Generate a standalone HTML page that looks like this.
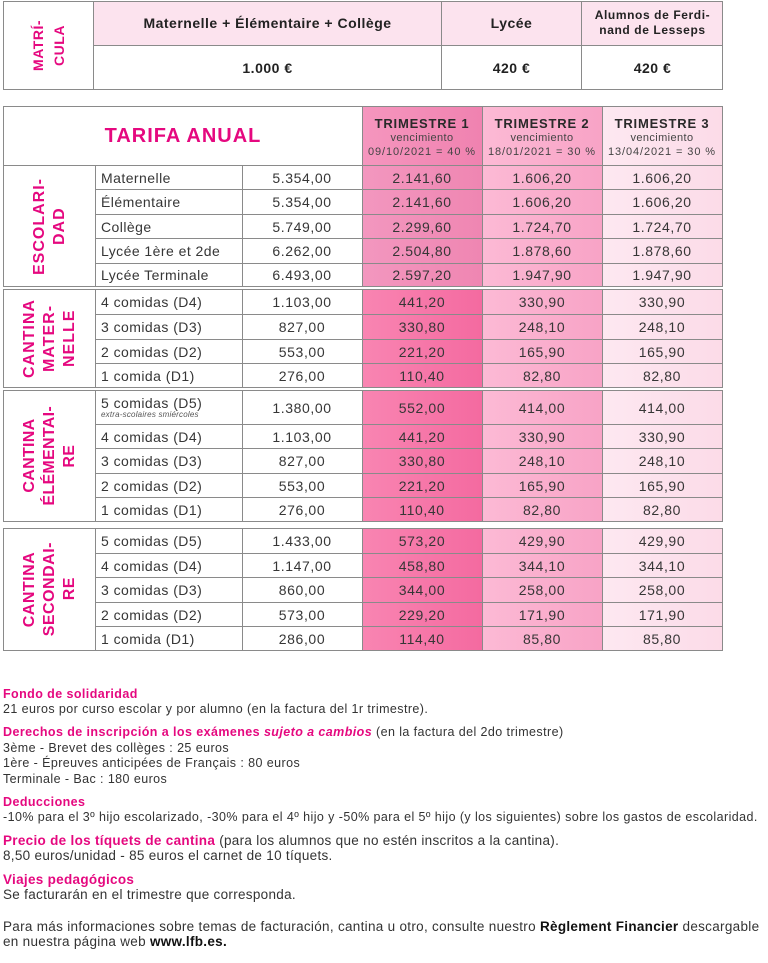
<!DOCTYPE html>
<html><head><meta charset="utf-8">
<style>
*{margin:0;padding:0;box-sizing:border-box}
body{width:768px;height:963px;background:#fff;position:relative;overflow:hidden;font-family:"Liberation Sans",Arial,sans-serif;color:#3a3a3a}
.abs{position:absolute}
.box{position:absolute;left:3px;width:720px;border:1px solid #8a8a8a}
.v{position:absolute;width:1px;background:#8a8a8a}
.r{position:absolute;left:95px;width:627px;display:flex;align-items:center;border-top:1px solid #8a8a8a;font-size:14px;letter-spacing:0.6px;color:#363636}
.r span{width:120px;text-align:center;display:block}
.r span.n{width:147px;text-align:left;padding-left:6px;letter-spacing:0.45px}
.lab{position:absolute;left:4px;width:91px;display:flex;align-items:center;justify-content:center}
.vt{writing-mode:vertical-rl;transform:rotate(180deg);color:#e5087f;font-weight:bold;font-size:16px;letter-spacing:1px;line-height:20px;text-align:center;white-space:nowrap}
.t1e{background:linear-gradient(to right,#f397bf,#ef86b2)}
.t1c{background:linear-gradient(to right,#f985b2,#f46aa0)}
.t2{background:linear-gradient(to right,#fcbad5,#f8a3c6)}
.t3{background:linear-gradient(to right,#fde8f1,#fcdbe8)}
.th{position:absolute;top:106px;height:59px;width:120px;text-align:center;color:#2a2a2a}
.th b{display:block;font-size:13px;letter-spacing:0.8px;margin-top:10px;line-height:15px}
.th i{display:block;font-style:normal;font-size:11px;line-height:14px;color:#444;letter-spacing:0.4px}
.th i.d{letter-spacing:0.9px}
.fn{position:absolute;left:3px;font-size:12.5px;line-height:16px;color:#333;white-space:nowrap;letter-spacing:0.42px}
.fn b{color:#e5087f}
.fc{position:absolute;left:3px;font-size:13.5px;line-height:16px;color:#333;white-space:nowrap;letter-spacing:0.3px}
.fc b.p{color:#e5087f}
.fc b.k{color:#111}
.tt{font-weight:bold;font-size:14px;color:#222;letter-spacing:0.5px}
</style></head><body>

<!-- TOP TABLE -->
<div class="abs" style="left:93px;top:1px;width:630px;height:44px;background:#fce3ee"></div>
<div class="box" style="top:1px;height:89px"></div>
<div class="v" style="left:93px;top:1px;height:89px"></div>
<div class="v" style="left:441px;top:1px;height:89px"></div>
<div class="v" style="left:581px;top:1px;height:89px"></div>
<div class="abs" style="left:93px;top:45px;width:630px;height:1px;background:#8a8a8a"></div>
<div class="lab" style="top:2px;height:87px;left:4px;width:89px"><div class="vt" style="font-size:14px;letter-spacing:0.5px;line-height:21px">MATRÍ-<br>CULA</div></div>
<div class="abs tt" style="left:94px;top:1px;width:347px;height:44px;display:flex;align-items:center;justify-content:center">Maternelle + Élémentaire + Collège</div>
<div class="abs tt" style="left:442px;top:1px;width:139px;height:44px;display:flex;align-items:center;justify-content:center">Lycée</div>
<div class="abs" style="left:582px;top:1px;width:141px;height:44px;display:flex;align-items:center;justify-content:center;text-align:center;font-weight:bold;font-size:12px;line-height:15px;color:#222;letter-spacing:0.6px">Alumnos de Ferdi-<br>nand de Lesseps</div>
<div class="abs tt" style="left:94px;top:46px;width:347px;height:43px;display:flex;align-items:center;justify-content:center">1.000 €</div>
<div class="abs tt" style="left:442px;top:46px;width:139px;height:43px;display:flex;align-items:center;justify-content:center">420 €</div>
<div class="abs tt" style="left:582px;top:46px;width:141px;height:43px;display:flex;align-items:center;justify-content:center">420 €</div>

<!-- BLOCK 1: header + escolaridad (106-286) -->
<div class="abs" style="left:362px;top:106px;width:120px;height:59px;background:linear-gradient(to right,#f596be,#f082b0)"></div>
<div class="abs t1e" style="left:362px;top:165px;width:120px;height:121px"></div>
<div class="abs t2" style="left:482px;top:106px;width:120px;height:180px"></div>
<div class="abs t3" style="left:602px;top:106px;width:120px;height:180px"></div>
<div class="box" style="top:106px;height:181px"></div>
<div class="v" style="left:95px;top:165px;height:121px"></div>
<div class="v" style="left:242px;top:165px;height:121px"></div>
<div class="v" style="left:362px;top:106px;height:180px"></div>
<div class="v" style="left:482px;top:106px;height:180px"></div>
<div class="v" style="left:602px;top:106px;height:180px"></div>
<div class="abs" style="left:4px;top:107px;width:358px;height:58px;display:flex;align-items:center;justify-content:center;color:#e5087f;font-weight:bold;font-size:20px;letter-spacing:1px">TARIFA ANUAL</div>
<div class="th" style="left:362px"><b>TRIMESTRE 1</b><i>vencimiento</i><i class="d">09/10/2021 = 40 %</i></div>
<div class="th" style="left:482px"><b>TRIMESTRE 2</b><i>vencimiento</i><i class="d">18/01/2021 = 30 %</i></div>
<div class="th" style="left:602px"><b>TRIMESTRE 3</b><i>vencimiento</i><i class="d">13/04/2021 = 30 %</i></div>
<div class="abs" style="left:4px;top:165px;width:718px;height:1px;background:#8a8a8a"></div>
<div class="lab" style="top:166px;height:120px"><div class="vt">ESCOLARI-<br>DAD</div></div>
<div class="r" style="top:165px;height:24px"><span class="n">Maternelle</span><span>5.354,00</span><span>2.141,60</span><span>1.606,20</span><span>1.606,20</span></div>
<div class="r" style="top:189px;height:25px"><span class="n">Élémentaire</span><span>5.354,00</span><span>2.141,60</span><span>1.606,20</span><span>1.606,20</span></div>
<div class="r" style="top:214px;height:24px"><span class="n">Collège</span><span>5.749,00</span><span>2.299,60</span><span>1.724,70</span><span>1.724,70</span></div>
<div class="r" style="top:238px;height:25px"><span class="n">Lycée 1ère et 2de</span><span>6.262,00</span><span>2.504,80</span><span>1.878,60</span><span>1.878,60</span></div>
<div class="r" style="top:263px;height:23px"><span class="n">Lycée Terminale</span><span>6.493,00</span><span>2.597,20</span><span>1.947,90</span><span>1.947,90</span></div>

<!-- BLOCK 2: cantina maternelle (290-387) -->
<div class="abs t1c" style="left:362px;top:290px;width:120px;height:97px"></div>
<div class="abs t2" style="left:482px;top:290px;width:120px;height:97px"></div>
<div class="abs t3" style="left:602px;top:290px;width:120px;height:97px"></div>
<div class="box" style="top:289px;height:99px"></div>
<div class="v" style="left:95px;top:290px;height:97px"></div>
<div class="v" style="left:242px;top:290px;height:97px"></div>
<div class="v" style="left:362px;top:290px;height:97px"></div>
<div class="v" style="left:482px;top:290px;height:97px"></div>
<div class="v" style="left:602px;top:290px;height:97px"></div>
<div class="lab" style="top:290px;height:97px"><div class="vt">CANTINA<br>MATER-<br>NELLE</div></div>
<div class="r" style="top:290px;height:24px;border-top:none"><span class="n">4 comidas (D4)</span><span>1.103,00</span><span>441,20</span><span>330,90</span><span>330,90</span></div>
<div class="r" style="top:314px;height:25px"><span class="n">3 comidas (D3)</span><span>827,00</span><span>330,80</span><span>248,10</span><span>248,10</span></div>
<div class="r" style="top:339px;height:24px"><span class="n">2 comidas (D2)</span><span>553,00</span><span>221,20</span><span>165,90</span><span>165,90</span></div>
<div class="r" style="top:363px;height:24px"><span class="n">1 comida (D1)</span><span>276,00</span><span>110,40</span><span>82,80</span><span>82,80</span></div>

<!-- BLOCK 3: cantina elementaire (391-521) -->
<div class="abs t1c" style="left:362px;top:391px;width:120px;height:130px"></div>
<div class="abs t2" style="left:482px;top:391px;width:120px;height:130px"></div>
<div class="abs t3" style="left:602px;top:391px;width:120px;height:130px"></div>
<div class="box" style="top:390px;height:132px"></div>
<div class="v" style="left:95px;top:391px;height:130px"></div>
<div class="v" style="left:242px;top:391px;height:130px"></div>
<div class="v" style="left:362px;top:391px;height:130px"></div>
<div class="v" style="left:482px;top:391px;height:130px"></div>
<div class="v" style="left:602px;top:391px;height:130px"></div>
<div class="lab" style="top:391px;height:130px"><div class="vt" style="letter-spacing:0.3px">CANTINA<br>ÉLÉMENTAI-<br>RE</div></div>
<div class="r" style="top:391px;height:33px;border-top:none"><span class="n" style="line-height:13px;padding-top:1px">5 comidas (D5)<br><em style="font-size:8px;line-height:9px;display:block;color:#555;letter-spacing:0.2px">extra-scolaires smiércoles</em></span><span>1.380,00</span><span>552,00</span><span>414,00</span><span>414,00</span></div>
<div class="r" style="top:424px;height:24px"><span class="n">4 comidas (D4)</span><span>1.103,00</span><span>441,20</span><span>330,90</span><span>330,90</span></div>
<div class="r" style="top:448px;height:25px"><span class="n">3 comidas (D3)</span><span>827,00</span><span>330,80</span><span>248,10</span><span>248,10</span></div>
<div class="r" style="top:473px;height:24px"><span class="n">2 comidas (D2)</span><span>553,00</span><span>221,20</span><span>165,90</span><span>165,90</span></div>
<div class="r" style="top:497px;height:24px"><span class="n">1 comidas (D1)</span><span>276,00</span><span>110,40</span><span>82,80</span><span>82,80</span></div>

<!-- BLOCK 4: cantina secondaire (529-650) -->
<div class="abs t1c" style="left:362px;top:529px;width:120px;height:121px"></div>
<div class="abs t2" style="left:482px;top:529px;width:120px;height:121px"></div>
<div class="abs t3" style="left:602px;top:529px;width:120px;height:121px"></div>
<div class="box" style="top:528px;height:123px"></div>
<div class="v" style="left:95px;top:529px;height:121px"></div>
<div class="v" style="left:242px;top:529px;height:121px"></div>
<div class="v" style="left:362px;top:529px;height:121px"></div>
<div class="v" style="left:482px;top:529px;height:121px"></div>
<div class="v" style="left:602px;top:529px;height:121px"></div>
<div class="lab" style="top:529px;height:121px"><div class="vt" style="letter-spacing:0.5px">CANTINA<br>SECONDAI-<br>RE</div></div>
<div class="r" style="top:529px;height:24px;border-top:none"><span class="n">5 comidas (D5)</span><span>1.433,00</span><span>573,20</span><span>429,90</span><span>429,90</span></div>
<div class="r" style="top:553px;height:24px"><span class="n">4 comidas (D4)</span><span>1.147,00</span><span>458,80</span><span>344,10</span><span>344,10</span></div>
<div class="r" style="top:577px;height:25px"><span class="n">3 comidas (D3)</span><span>860,00</span><span>344,00</span><span>258,00</span><span>258,00</span></div>
<div class="r" style="top:602px;height:24px"><span class="n">2 comidas (D2)</span><span>573,00</span><span>229,20</span><span>171,90</span><span>171,90</span></div>
<div class="r" style="top:626px;height:24px"><span class="n">1 comida (D1)</span><span>286,00</span><span>114,40</span><span>85,80</span><span>85,80</span></div>

<!-- FOOTNOTES -->
<div class="fn" style="top:686px"><b>Fondo de solidaridad</b></div>
<div class="fn" style="top:701px">21 euros por curso escolar y por alumno (en la factura del 1r trimestre).</div>
<div class="fn" style="top:724px"><b>Derechos de inscripción a los exámenes <i>sujeto a cambios</i></b> (en la factura del 2do trimestre)</div>
<div class="fn" style="top:740px">3ème - Brevet des collèges : 25 euros</div>
<div class="fn" style="top:755px">1ère - Épreuves anticipées de Français : 80 euros</div>
<div class="fn" style="top:771px">Terminale - Bac : 180 euros</div>
<div class="fn" style="top:794px"><b>Deducciones</b></div>
<div class="fn" style="top:809px">-10% para el 3º hijo escolarizado, -30% para el 4º hijo y -50% para el 5º hijo (y los siguientes) sobre los gastos de escolaridad.</div>
<div class="fc" style="top:833px"><b class="p">Precio de los tíquets de cantina</b> (para los alumnos que no estén inscritos a la cantina).</div>
<div class="fc" style="top:848px">8,50 euros/unidad - 85 euros el carnet de 10 tíquets.</div>
<div class="fc" style="top:872px"><b class="p">Viajes pedagógicos</b></div>
<div class="fc" style="top:887px">Se facturarán en el trimestre que corresponda.</div>
<div class="fc" style="top:919px">Para más informaciones sobre temas de facturación, cantina u otro, consulte nuestro <b class="k">Règlement Financier</b> descargable</div>
<div class="fc" style="top:934px">en nuestra página web <b class="k">www.lfb.es.</b></div>

</body></html>
